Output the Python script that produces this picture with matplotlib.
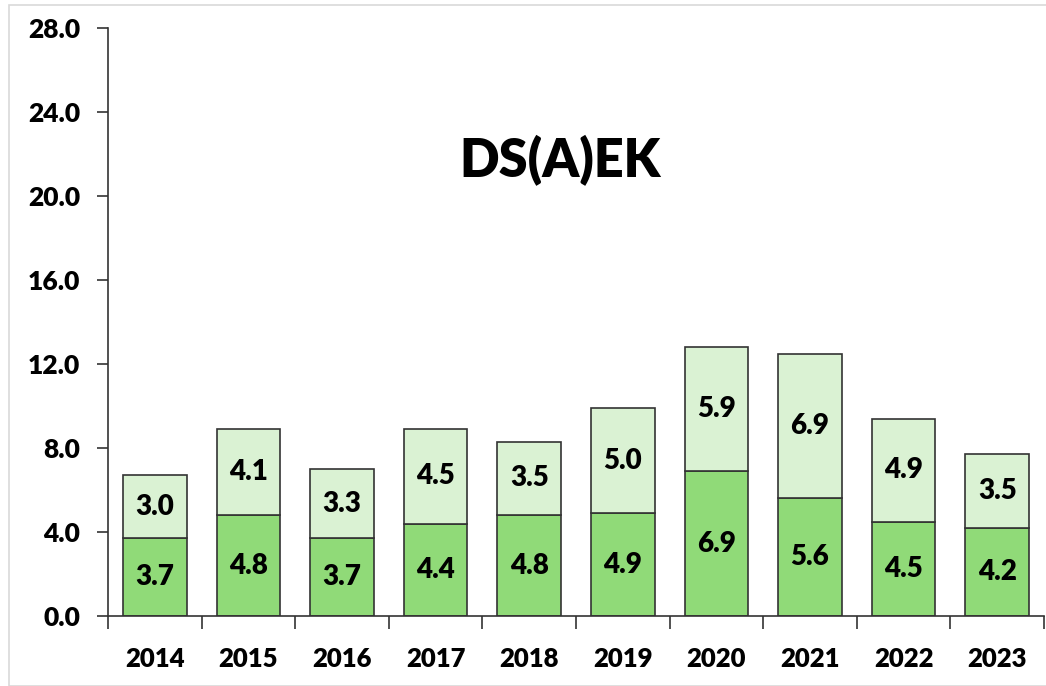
import numpy as np
import matplotlib.pyplot as plt
from matplotlib.patches import Rectangle

plt.rcParams['font.family'] = ['Lato', 'DejaVu Sans']
plt.rcParams['font.weight'] = 'bold'

years = ['2014', '2015', '2016', '2017', '2018', '2019', '2020', '2021', '2022', '2023']
bottom_vals = [3.7, 4.8, 3.7, 4.4, 4.8, 4.9, 6.9, 5.6, 4.5, 4.2]
top_vals = [3.0, 4.1, 3.3, 4.5, 3.5, 5.0, 5.9, 6.9, 4.9, 3.5]
title = 'DS(A)EK'

dark_green = '#90DA78'
light_green = '#DAF2D3'
wt = 'heavy'

fig = plt.figure(figsize=(10.46, 6.86), dpi=100)
# light frame round the chart
fig.patches.append(Rectangle((9 / 1046, 0), 1.0, 1 - 5 / 686,
                             transform=fig.transFigure, fill=False,
                             edgecolor='#D9D9D9', lw=1.2))
ax = fig.add_axes([108 / 1046, 70 / 686, 936 / 1046, 588 / 686])

x = np.arange(len(years))
ax.bar(x, bottom_vals, width=0.68, color=dark_green, edgecolor='#333333', lw=1.2)
ax.bar(x, top_vals, width=0.68, bottom=bottom_vals, color=light_green,
       edgecolor='#333333', lw=1.2)

for i in range(len(years)):
    ax.text(x[i], bottom_vals[i] / 2, '%.1f' % bottom_vals[i], ha='center', va='center',
            fontsize=20, fontweight=wt)
    ax.text(x[i], bottom_vals[i] + top_vals[i] / 2, '%.1f' % top_vals[i], ha='center',
            va='center', fontsize=20, fontweight=wt)

ax.set_xlim(-0.5, len(years) - 0.5)
ax.set_ylim(0, 28)
ax.set_yticks(np.arange(0, 28.1, 4))
ax.set_yticklabels(['%.1f' % v for v in np.arange(0, 28.1, 4)], fontsize=19, fontweight=wt)
ax.set_xticks(np.arange(-0.5, len(years), 1))
ax.set_xticklabels([])
ax.set_xticks(x, minor=True)
ax.set_xticklabels(years, minor=True, fontsize=18.5, fontweight=wt)
ax.tick_params(axis='x', which='major', direction='out', length=9, width=1.2, color='#333333')
ax.tick_params(axis='x', which='minor', length=0, pad=22)
ax.tick_params(axis='y', direction='out', length=8, width=1.2, color='#333333', pad=12)

ax.spines['top'].set_visible(False)
ax.spines['right'].set_visible(False)
ax.spines['left'].set_color('#333333')
ax.spines['bottom'].set_color('#333333')
ax.spines['left'].set_linewidth(1.2)
ax.spines['bottom'].set_linewidth(1.2)

ax.text(0.483, 0.775, title, transform=ax.transAxes, ha='center', va='center',
        fontsize=37.5, fontweight=wt)

plt.savefig('out.png', dpi=100)
